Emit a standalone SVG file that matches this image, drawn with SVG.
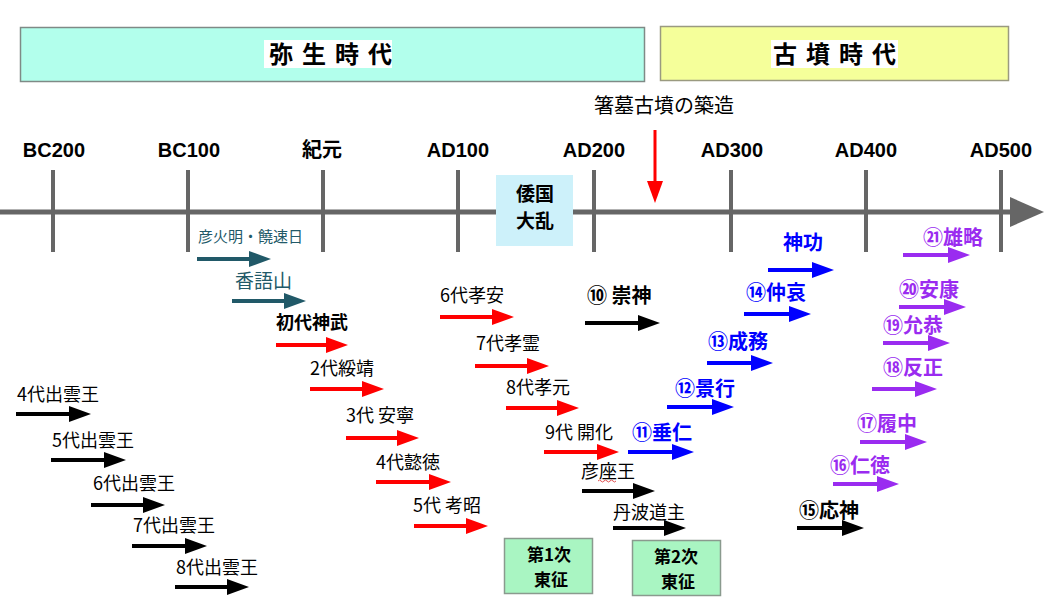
<svg xmlns="http://www.w3.org/2000/svg" width="1060" height="602" viewBox="0 0 1060 602">
<defs>
<style>
text{font-family:"Noto Sans CJK JP","Noto Sans",sans-serif;}
.yr{font-family:"Liberation Sans",Arial,sans-serif;font-weight:bold;font-size:20px;fill:#000;text-anchor:middle;}
.era{font-weight:bold;font-size:24px;fill:#000;text-anchor:middle;letter-spacing:9px;}
.lb{font-size:18px;fill:#000;}
.bk{font-size:20px;font-weight:bold;fill:#000;}
.bl{font-size:20px;font-weight:bold;fill:#0000FF;}
.pu{font-size:20px;font-weight:bold;fill:#9A2BF0;}
.tl{fill:#215968;}
.box{font-size:19px;font-weight:bold;fill:#000;text-anchor:middle;}
.box2{font-size:17px;font-weight:bold;fill:#000;text-anchor:middle;}
.tick{stroke:#666;stroke-width:4;}
.ar{stroke-width:4;fill:none;}
.red{stroke:#FF0000;marker-end:url(#mR);}
.blk{stroke:#000;marker-end:url(#mK);}
.teal{stroke:#215968;marker-end:url(#mT);}
.blue{stroke:#0000FF;marker-end:url(#mB);}
.purp{stroke:#9A2BF0;marker-end:url(#mP);}
</style>
<marker id="mR" markerUnits="userSpaceOnUse" markerWidth="22" markerHeight="16" refX="12" refY="8" orient="auto"><path d="M0,0 L22,8 L0,16 z" fill="#FF0000"/></marker>
<marker id="mK" markerUnits="userSpaceOnUse" markerWidth="22" markerHeight="16" refX="12" refY="8" orient="auto"><path d="M0,0 L22,8 L0,16 z" fill="#000"/></marker>
<marker id="mT" markerUnits="userSpaceOnUse" markerWidth="22" markerHeight="16" refX="12" refY="8" orient="auto"><path d="M0,0 L22,8 L0,16 z" fill="#215968"/></marker>
<marker id="mB" markerUnits="userSpaceOnUse" markerWidth="22" markerHeight="16" refX="12" refY="8" orient="auto"><path d="M0,0 L22,8 L0,16 z" fill="#0000FF"/></marker>
<marker id="mP" markerUnits="userSpaceOnUse" markerWidth="22" markerHeight="16" refX="12" refY="8" orient="auto"><path d="M0,0 L22,8 L0,16 z" fill="#9A2BF0"/></marker>
</defs>
<rect width="1060" height="602" fill="#fff"/>

<g id="yayoi">
<rect x="20.5" y="27.5" width="624" height="54" fill="#B2FFEC" stroke="#7f8a86" stroke-width="1.5"/>
<rect x="264" y="40" width="128" height="28" fill="#fff"/>
<text class="era" x="335" y="63">弥生時代</text>
</g>
<g id="kofun">
<rect x="660.5" y="26.5" width="348" height="54" fill="#F5FF9A" stroke="#9a9a80" stroke-width="1.5"/>
<rect x="771" y="40" width="127" height="28" fill="#fff"/>
<text class="era" x="839" y="63">古墳時代</text>
</g>

<g id="hashihaka">
<text x="594" y="113" style="font-size:20px;fill:#000">箸墓古墳の築造</text>
<line x1="655" y1="130" x2="655" y2="182" stroke="#FF0000" stroke-width="3"/>
<path d="M647,181 L663,181 L655,203 z" fill="#FF0000"/>
</g>

<g id="timeline">
<line x1="0" y1="212" x2="1012" y2="212" stroke="#666" stroke-width="5"/>
<path d="M1010,197 L1044,212 L1010,227 z" fill="#666"/>
<line class="tick" x1="53" y1="170" x2="53" y2="252"/>
<line class="tick" x1="188" y1="170" x2="188" y2="252"/>
<line class="tick" x1="323" y1="170" x2="323" y2="252"/>
<line class="tick" x1="458" y1="170" x2="458" y2="252"/>
<line class="tick" x1="594" y1="170" x2="594" y2="252"/>
<line class="tick" x1="731" y1="170" x2="731" y2="252"/>
<line class="tick" x1="866" y1="170" x2="866" y2="252"/>
<line class="tick" x1="1001" y1="170" x2="1001" y2="252"/>
<text class="yr" x="54" y="157">BC200</text>
<text class="yr" x="189" y="157">BC100</text>
<text class="yr" x="322" y="157" style="font-family:'Noto Sans CJK JP',sans-serif">紀元</text>
<text class="yr" x="458" y="157">AD100</text>
<text class="yr" x="594" y="157">AD200</text>
<text class="yr" x="732" y="157">AD300</text>
<text class="yr" x="866" y="157">AD400</text>
<text class="yr" x="1001" y="157">AD500</text>
</g>

<g id="wakoku">
<rect x="496" y="175" width="77" height="71" fill="#CDF1FA"/>
<text class="box" x="535" y="201">倭国</text>
<text class="box" x="535" y="228">大乱</text>
</g>

<g id="tosei1">
<rect x="504.5" y="538.5" width="88" height="55" fill="#A9F5C2" stroke="#8a9a8e" stroke-width="1.5"/>
<text class="box2" x="549" y="561">第1次</text>
<text class="box2" x="551" y="586">東征</text>
</g>
<g id="tosei2">
<rect x="632.5" y="540.5" width="88" height="55" fill="#A9F5C2" stroke="#8a9a8e" stroke-width="1.5"/>
<text class="box2" x="676" y="563">第2次</text>
<text class="box2" x="678" y="588">東征</text>
</g>

<g id="labels">
<text class="tl" x="198" y="242" style="font-size:15px">彦火明・饒速日</text>
<text class="tl" x="235" y="288" style="font-size:19px">香語山</text>
<text class="lb" x="276" y="329" style="font-weight:bold">初代神武</text>
<text class="lb" x="310" y="375">2代綏靖</text>
<text class="lb" x="346" y="422">3代 安寧</text>
<text class="lb" x="376" y="469">4代懿徳</text>
<text class="lb" x="413" y="512">5代 考昭</text>
<text class="lb" x="440" y="302">6代孝安</text>
<text class="lb" x="476" y="350">7代孝霊</text>
<text class="lb" x="506" y="394">8代孝元</text>
<text class="lb" x="545" y="439">9代 開化</text>
<text class="bk" x="587" y="303">⑩ 崇神</text>
<text class="lb" x="581" y="478">彦座王</text>
<path d="M598,481 q1.5,-2 3,0 t3,0 t3,0 t3,0 t3,0 t3,0" stroke="#e05050" stroke-width="1" fill="none"/>
<text class="lb" x="613" y="519">丹波道主</text>
<text class="bk" x="799" y="518">⑮応神</text>
<text class="bl" x="632" y="440">⑪垂仁</text>
<text class="bl" x="675" y="396">⑫景行</text>
<text class="bl" x="708" y="349">⑬成務</text>
<text class="bl" x="746" y="300">⑭仲哀</text>
<text class="bl" x="783" y="250">神功</text>
<text class="pu" x="923" y="245">㉑雄略</text>
<text class="pu" x="899" y="297">⑳安康</text>
<text class="pu" x="883" y="333">⑲允恭</text>
<text class="pu" x="883" y="375">⑱反正</text>
<text class="pu" x="857" y="431">⑰履中</text>
<text class="pu" x="830" y="473">⑯仁徳</text>
<text class="lb" x="17" y="401">4代出雲王</text>
<text class="lb" x="52" y="447">5代出雲王</text>
<text class="lb" x="93" y="490">6代出雲王</text>
<text class="lb" x="133" y="532">7代出雲王</text>
<text class="lb" x="176" y="574">8代出雲王</text>
</g>

<g id="connectors">
<line class="ar teal" x1="197" y1="259" x2="261" y2="259"/>
<line class="ar teal" x1="232" y1="301" x2="296" y2="301"/>
<line class="ar red" x1="276" y1="345" x2="338" y2="345"/>
<line class="ar red" x1="310" y1="389" x2="374" y2="389"/>
<line class="ar red" x1="346" y1="438" x2="409" y2="438"/>
<line class="ar red" x1="376" y1="482" x2="441" y2="482"/>
<line class="ar red" x1="414" y1="526" x2="478" y2="526"/>
<line class="ar red" x1="440" y1="317" x2="504" y2="317"/>
<line class="ar red" x1="475" y1="366" x2="539" y2="366"/>
<line class="ar red" x1="506" y1="408" x2="569" y2="408"/>
<line class="ar red" x1="544" y1="452" x2="609" y2="452"/>
<line class="ar blk" x1="585" y1="323" x2="650" y2="323"/>
<line class="ar blk" x1="582" y1="491" x2="645" y2="491"/>
<line class="ar blk" x1="613" y1="528" x2="676" y2="528"/>
<line class="ar blk" x1="797" y1="528" x2="854" y2="528"/>
<line class="ar blk" x1="16" y1="414" x2="81" y2="414"/>
<line class="ar blk" x1="51" y1="460" x2="116" y2="460"/>
<line class="ar blk" x1="91" y1="505" x2="155" y2="505"/>
<line class="ar blk" x1="132" y1="546" x2="197" y2="546"/>
<line class="ar blk" x1="175" y1="587" x2="239" y2="587"/>
<line class="ar blue" x1="628" y1="452" x2="684" y2="452"/>
<line class="ar blue" x1="667" y1="407" x2="724" y2="407"/>
<line class="ar blue" x1="707" y1="363" x2="763" y2="363"/>
<line class="ar blue" x1="744" y1="314" x2="801" y2="314"/>
<line class="ar blue" x1="768" y1="270" x2="824" y2="270"/>
<line class="ar purp" x1="903" y1="255" x2="960" y2="255"/>
<line class="ar purp" x1="899" y1="307" x2="956" y2="307"/>
<line class="ar purp" x1="883" y1="343" x2="940" y2="343"/>
<line class="ar purp" x1="872" y1="389" x2="927" y2="389"/>
<line class="ar purp" x1="860" y1="442" x2="917" y2="442"/>
<line class="ar purp" x1="833" y1="484" x2="889" y2="484"/>
</g>
</svg>
